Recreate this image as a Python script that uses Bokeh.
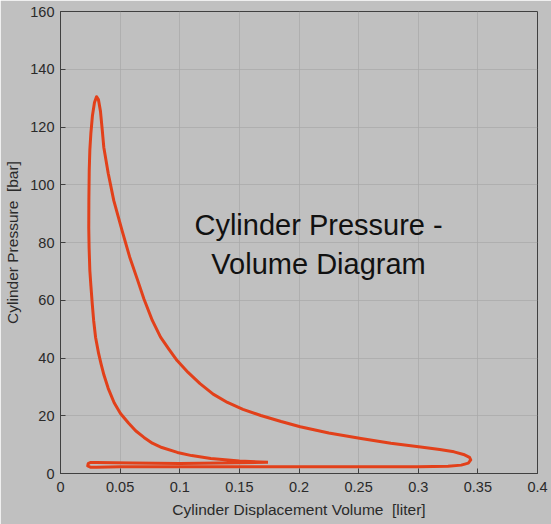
from bokeh.plotting import figure
from bokeh.models import Range1d, FixedTicker, Label
from bokeh.embed import file_html
from bokeh.resources import INLINE

# Cycle path (volume in liter, pressure in bar)
volume = [0.174, 0.168, 0.150, 0.126, 0.110, 0.098, 0.085, 0.077, 0.070, 0.063,
          0.057, 0.0503, 0.045, 0.040, 0.0365, 0.034, 0.032, 0.0294, 0.0278, 0.0266,
          0.0255, 0.0246, 0.0240, 0.0237, 0.0238, 0.0241, 0.0246, 0.0255, 0.0268, 0.0285,
          0.0302, 0.0318, 0.0335, 0.0350, 0.0363, 0.040, 0.0447, 0.0517, 0.058, 0.0648,
          0.0699, 0.077, 0.0839, 0.091, 0.0978, 0.107, 0.117, 0.128, 0.140, 0.153,
          0.168, 0.185, 0.201, 0.225, 0.252, 0.277, 0.302, 0.318, 0.330, 0.338,
          0.343, 0.344, 0.342, 0.336, 0.325, 0.300, 0.200, 0.100, 0.050, 0.030,
          0.025, 0.0228, 0.0232, 0.025, 0.030, 0.060, 0.100, 0.150, 0.174]
pressure = [3.9, 4.0, 4.3, 5.2, 6.2, 7.3, 9.0, 10.5, 12.5, 14.8,
            17.5, 20.8, 24.5, 29.5, 34.0, 38.0, 41.5, 47.2, 53.0, 58.9,
            65.0, 70.3, 78.0, 85.0, 95.0, 105.0, 112.0, 118.0, 124.0, 128.5,
            130.5, 129.5, 125.5, 119.0, 113.0, 104.0, 94.5, 84.0, 75.0, 66.8,
            60.5, 53.0, 47.2, 43.0, 39.1, 35.0, 31.1, 27.5, 24.6, 22.2,
            20.1, 18.0, 16.2, 14.0, 12.1, 10.5, 9.2, 8.3, 7.5, 6.6,
            5.6, 4.7, 3.6, 2.9, 2.5, 2.3, 2.3, 2.3, 2.3, 2.2,
            2.2, 2.6, 3.4, 3.8, 3.8, 3.6, 3.5, 3.7, 3.9]

x_ticks = [0, 0.05, 0.1, 0.15, 0.2, 0.25, 0.3, 0.35, 0.4]
x_tick_labels = {0: "0", 0.05: "0.05", 0.1: "0.1", 0.15: "0.15", 0.2: "0.2",
                 0.25: "0.25", 0.3: "0.3", 0.35: "0.35", 0.4: "0.4"}
y_ticks = [0, 20, 40, 60, 80, 100, 120, 140, 160]

BG = "#c0c0c0"
FONT = "Liberation Sans"

p = figure(width=551, height=524, output_backend="svg", toolbar_location=None,
           x_range=Range1d(0, 0.4), y_range=Range1d(0, 160),
           min_border_left=60, min_border_right=14, min_border_top=11, min_border_bottom=51)
p.background_fill_color = BG
p.border_fill_color = BG
p.outline_line_color = "#404040"
p.outline_line_width = 1

p.line(volume, pressure, line_color="#e2401a", line_width=3, line_join="round")

p.xaxis.ticker = FixedTicker(ticks=x_ticks)
p.xaxis.major_label_overrides = x_tick_labels
p.yaxis.ticker = FixedTicker(ticks=y_ticks)
for ax in (p.xaxis[0], p.yaxis[0]):
    ax.axis_line_color = "#404040"
    ax.major_tick_line_color = "#404040"
    ax.major_tick_in = 5
    ax.major_tick_out = 0
    ax.minor_tick_line_color = None
    ax.major_label_text_font = FONT
    ax.major_label_text_font_size = "14.5px"
    ax.major_label_text_color = "#2a2a2a"
    ax.axis_label_text_font = FONT
    ax.axis_label_text_font_size = "15.5px"
    ax.axis_label_text_font_style = "normal"
    ax.axis_label_text_color = "#2a2a2a"
p.xaxis.axis_label = "Cylinder Displacement Volume\u00a0\u00a0[liter]"
p.yaxis.axis_label = "Cylinder Pressure\u00a0\u00a0[bar]"
p.xaxis.major_label_standoff = 8
p.yaxis.major_label_standoff = 6
p.xaxis.axis_label_standoff = 6
p.yaxis.axis_label_standoff = 6

p.grid.grid_line_color = "#a8a8a8"
p.grid.grid_line_alpha = 0.7

p.add_layout(Label(x=0.2164, y=85.9, text="Cylinder Pressure -", text_font=FONT,
                   text_font_size="29px", text_color="#111111", text_align="center",
                   text_baseline="middle"))
p.add_layout(Label(x=0.2164, y=72.7, text="Volume Diagram", text_font=FONT,
                   text_font_size="29px", text_color="#111111", text_align="center",
                   text_baseline="middle"))

html = file_html(p, INLINE)
html = html.replace("<body>", '<body style="margin:0; background:%s">' % BG, 1)
open("out.html", "w").write(html)
